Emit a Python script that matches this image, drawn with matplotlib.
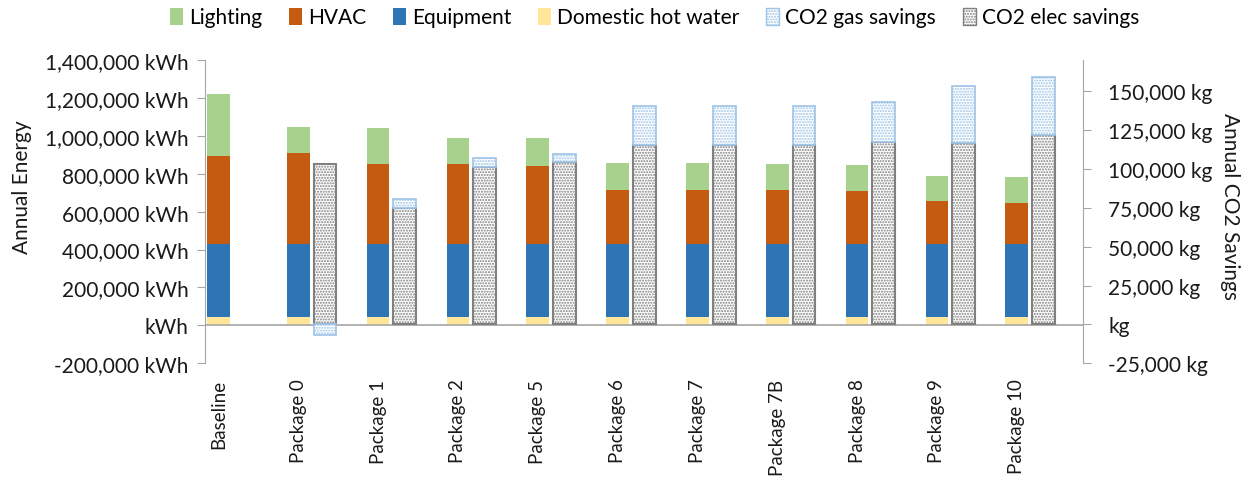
import numpy as np
import matplotlib
matplotlib.use("Agg")
import matplotlib.pyplot as plt
from matplotlib.patches import Patch
from matplotlib.ticker import FuncFormatter, MultipleLocator

# --- Data ---
packages = ["Baseline", "Package 0", "Package 1", "Package 2", "Package 5", "Package 6",
            "Package 7", "Package 7B", "Package 8", "Package 9", "Package 10"]
dhw = [44000, 44000, 44000, 44000, 44000, 44000, 44000, 44000, 44000, 44000, 44000]
equipment = [384000, 387000, 387000, 387000, 387000, 387000, 387000, 386000, 386000, 386000, 386000]
hvac = [467000, 481000, 419000, 419000, 410000, 283000, 283000, 285000, 277000, 224000, 216000]
lighting = [326000, 132000, 189000, 136000, 145000, 141000, 141000, 134000, 137000, 135000, 136000]
co2_elec = [0, 103300, 74800, 101200, 104200, 115600, 115600, 115600, 117300, 116700, 122000]
co2_gas = [0, -6900, 5800, 5800, 5400, 25100, 25100, 25100, 25800, 36300, 36800]

# --- Colours ---
c_light = "#A9D18E"
c_hvac = "#C55A11"
c_equip = "#2E75B6"
c_dhw = "#FFE699"
c_gas = "#9DC3E6"
c_elec = "#808080"
c_axis = "#A6A6A6"

plt.rcParams["font.family"] = ["Lato", "DejaVu Sans"]
plt.rcParams["hatch.linewidth"] = 1.0

x = np.arange(len(packages))
w = 0.285
x_stack = x - 0.17
x_co2 = x + 0.165

fig = plt.figure(figsize=(12.47, 4.85), dpi=100)
ax = fig.add_axes([0.1644, 0.2489, 0.8685 - 0.1644, 0.8742 - 0.2489])
ax2 = ax.twinx()

# --- Stacked energy bars ---
b1 = np.array(dhw)
b2 = b1 + np.array(equipment)
b3 = b2 + np.array(hvac)
ax.bar(x_stack, dhw, w, color=c_dhw, zorder=2)
ax.bar(x_stack, equipment, w, bottom=b1, color=c_equip, zorder=2)
ax.bar(x_stack, hvac, w, bottom=b2, color=c_hvac, zorder=2)
ax.bar(x_stack, lighting, w, bottom=b3, color=c_light, zorder=2)

# --- CO2 savings (secondary axis), skip empty baseline ---
elec = np.array(co2_elec)
gas = np.array(co2_gas)
has = elec != 0
gas_bottom = np.where(gas > 0, elec, 0)
ax2.bar(x_co2[has], elec[has], w, color="white", edgecolor=c_elec, hatch="......",
        linewidth=1.5, zorder=2)
ax2.bar(x_co2[has], gas[has], w, bottom=gas_bottom[has], color="white", edgecolor=c_gas,
        hatch="......", linewidth=1.2, zorder=2)

# --- Axes ---
ax.set_xlim(-0.338, 10.66)
ax.set_ylim(-200000, 1400000)
ax2.set_ylim(-25000, 170000)
ax.yaxis.set_major_locator(MultipleLocator(200000))
ax2.yaxis.set_major_locator(MultipleLocator(25000))


def kwh(v, pos):
    return "kWh" if v == 0 else f"{v:,.0f} kWh"


def kg(v, pos):
    return "kg" if v == 0 else f"{v:,.0f} kg"


ax.yaxis.set_major_formatter(FuncFormatter(kwh))
ax2.yaxis.set_major_formatter(FuncFormatter(kg))

ax.set_xticks(x_stack)
ax.set_xticklabels(packages, rotation=90, fontsize=13.5, color="#1a1a1a")
ax.tick_params(axis="x", length=0, pad=11)
ax.tick_params(axis="y", labelsize=15, labelcolor="#1a1a1a", color=c_axis,
               length=6, pad=6)
ax2.tick_params(axis="y", labelsize=15, labelcolor="#1a1a1a", color=c_axis,
                length=6, pad=12)

for a in (ax, ax2):
    for s in ("top", "bottom"):
        a.spines[s].set_visible(False)
    a.spines["left"].set_color(c_axis)
    a.spines["right"].set_color(c_axis)
ax.spines["right"].set_visible(False)
ax2.spines["left"].set_visible(False)
ax.axhline(0, color=c_axis, linewidth=1.2, zorder=3)

fig.text(0.018, 0.615, "Annual Energy", rotation=90, ha="center", va="center",
         fontsize=15, color="#1a1a1a")
fig.text(0.986, 0.575, "Annual CO2 Savings", rotation=270, ha="center", va="center",
         fontsize=15, color="#1a1a1a")

# --- Legend ---
handles = [
    Patch(facecolor=c_light, label="Lighting"),
    Patch(facecolor=c_hvac, label="HVAC"),
    Patch(facecolor=c_equip, label="Equipment"),
    Patch(facecolor=c_dhw, label="Domestic hot water"),
    Patch(facecolor="white", edgecolor=c_gas, hatch="......", label="CO2 gas savings"),
    Patch(facecolor="white", edgecolor=c_elec, hatch="......", label="CO2 elec savings"),
]
fig.legend(handles=handles, loc="center", bbox_to_anchor=(0.525, 0.962), ncol=6,
           frameon=False, fontsize=15, handlelength=0.6, handleheight=0.9,
           handletextpad=0.3, columnspacing=1.3)

fig.savefig("out.png", dpi=100)
